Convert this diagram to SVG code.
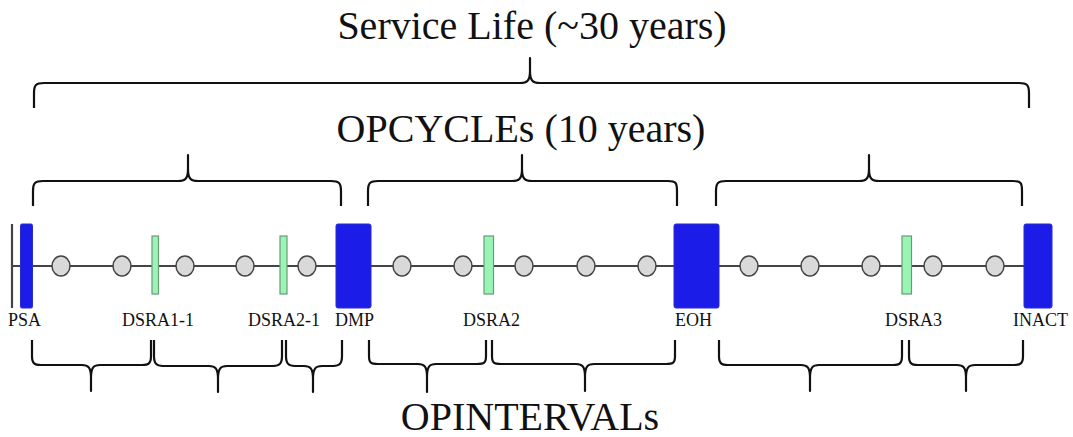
<svg xmlns="http://www.w3.org/2000/svg" width="1073" height="437" viewBox="0 0 1073 437">
<style>
.title{font-family:"Liberation Serif","Times New Roman",serif;font-size:40px;fill:#111}
.lbl{font-family:"Liberation Serif","Times New Roman",serif;font-size:18px;fill:#111}
.brace{fill:none;stroke:#111;stroke-width:2.2;stroke-linejoin:round;stroke-linecap:butt}
.ev{fill:#d9d9d9;stroke:#444;stroke-width:1.5}
.blue{fill:#1c1ce8;stroke:#2a2ad0;stroke-width:1}
.green{fill:#99f5b4;stroke:#6a9a78;stroke-width:1.2}
.tl{stroke:#444;stroke-width:2.2;fill:none}
</style>
<rect width="1073" height="437" fill="#fff"/>

<g id="titles">
<text class="title" x="532" y="39" text-anchor="middle">Service Life (~30 years)</text>
<text class="title" x="521" y="142" text-anchor="middle">OPCYCLEs (10 years)</text>
<text class="title" x="530" y="430" text-anchor="middle">OPINTERVALs</text>
</g>

<g id="braces">
<path class="brace" d="M34,108 L34,93 C34,85 36,83 44,83 L520,83 C527,83 530,81 530,71 L530,58 L530,71 C530,81 533,83 540,83 L1019,83 C1027,83 1029,85 1029,93 L1029,108"/>
<path class="brace" d="M33,206 L33,191 C33,183 35,181 43,181 L178,181 C185,181 188,179 188,169 L188,155 L188,169 C188,179 191,181 198,181 L331,181 C339,181 341,183 341,191 L341,206"/>
<path class="brace" d="M368,206 L368,191 C368,183 370,181 378,181 L512,181 C519,181 522,179 522,169 L522,155 L522,169 C522,179 525,181 532,181 L668,181 C676,181 677,183 677,191 L677,206"/>
<path class="brace" d="M716,206 L716,191 C716,183 718,181 726,181 L859,181 C866,181 869,179 869,169 L869,155 L869,169 C869,179 872,181 879,181 L1013,181 C1021,181 1022,183 1022,191 L1022,206"/>

<path class="brace" d="M32,340 L32,356 C32,363 34,365 41,365 L82,365 C88,365 91,367 91,378 L91,391 L91,378 C91,367 94,365 100,365 L142,365 C149,365 151,363 151,356 L151,340"/>
<path class="brace" d="M154,340 L154,356 C154,363 156,366 163,366 L209,366 C215,366 218,368 218,379 L218,392 L218,379 C218,368 221,366 227,366 L273,366 C280,366 282,363 282,356 L282,340"/>
<path class="brace" d="M286,340 L286,356 C286,363 288,366 295,366 L304,366 C310,366 313,368 313,379 L313,392 L313,379 C313,368 316,366 322,366 L333,366 C340,366 342,363 342,356 L342,340"/>
<path class="brace" d="M369,340 L369,356 C369,363 371,364 378,364 L418,364 C424,364 427,366 427,377 L427,392 L427,377 C427,366 430,364 436,364 L477,364 C484,364 486,363 486,356 L486,340"/>
<path class="brace" d="M492,340 L492,356 C492,363 494,364 501,364 L576,364 C582,364 585,366 585,377 L585,391 L585,377 C585,366 588,364 594,364 L666,364 C673,364 675,363 675,356 L675,340"/>
<path class="brace" d="M719,340 L719,356 C719,363 721,365 728,365 L801,365 C807,365 810,367 810,378 L810,391 L810,378 C810,367 813,365 819,365 L893,365 C900,365 902,363 902,356 L902,340"/>
<path class="brace" d="M909,340 L909,356 C909,363 911,365 918,365 L957,365 C963,365 966,367 966,378 L966,391 L966,378 C966,367 969,365 975,365 L1014,365 C1021,365 1023,363 1023,356 L1023,340"/>
</g>

<g id="connectors">
<line class="tl" x1="12" y1="266" x2="1024" y2="266"/>
<line class="tl" x1="12" y1="224" x2="12" y2="308"/>
</g>

<g id="PSA"><rect class="blue" x="20.5" y="224" width="12" height="84" rx="1.5"/><text class="lbl" x="8" y="326">PSA</text></g>
<g id="c1"><ellipse class="ev" cx="61" cy="266" rx="9" ry="10"/></g>
<g id="c2"><ellipse class="ev" cx="122" cy="266" rx="9" ry="10"/></g>
<g id="DSRA1-1"><rect class="green" x="152" y="236" width="6.5" height="58"/><text class="lbl" x="122" y="326">DSRA1-1</text></g>
<g id="c3"><ellipse class="ev" cx="185" cy="266" rx="9" ry="10"/></g>
<g id="c4"><ellipse class="ev" cx="245" cy="266" rx="9" ry="10"/></g>
<g id="DSRA2-1"><rect class="green" x="280" y="236" width="7" height="58"/><text class="lbl" x="248" y="326">DSRA2-1</text></g>
<g id="c5"><ellipse class="ev" cx="307" cy="266" rx="9" ry="10"/></g>
<g id="DMP"><rect class="blue" x="336" y="224" width="35" height="84" rx="2"/><text class="lbl" x="335" y="326">DMP</text></g>
<g id="c6"><ellipse class="ev" cx="402" cy="266" rx="9" ry="10"/></g>
<g id="c7"><ellipse class="ev" cx="463" cy="266" rx="9" ry="10"/></g>
<g id="DSRA2"><rect class="green" x="484" y="236" width="9.5" height="58"/><text class="lbl" x="463" y="326">DSRA2</text></g>
<g id="c8"><ellipse class="ev" cx="524" cy="266" rx="9" ry="10"/></g>
<g id="c9"><ellipse class="ev" cx="586" cy="266" rx="9" ry="10"/></g>
<g id="c10"><ellipse class="ev" cx="647" cy="266" rx="9" ry="10"/></g>
<g id="EOH"><rect class="blue" x="674" y="224" width="45" height="84" rx="2"/><text class="lbl" x="675" y="326">EOH</text></g>
<g id="c11"><ellipse class="ev" cx="749" cy="266" rx="9" ry="10"/></g>
<g id="c12"><ellipse class="ev" cx="810" cy="266" rx="9" ry="10"/></g>
<g id="c13"><ellipse class="ev" cx="871" cy="266" rx="9" ry="10"/></g>
<g id="DSRA3"><rect class="green" x="902" y="236" width="9.5" height="58"/><text class="lbl" x="885" y="326">DSRA3</text></g>
<g id="c14"><ellipse class="ev" cx="933" cy="266" rx="9" ry="10"/></g>
<g id="c15"><ellipse class="ev" cx="995" cy="266" rx="9" ry="10"/></g>
<g id="INACT"><rect class="blue" x="1024" y="224" width="28" height="84" rx="2"/><text class="lbl" x="1013" y="326">INACT</text></g>
</svg>
